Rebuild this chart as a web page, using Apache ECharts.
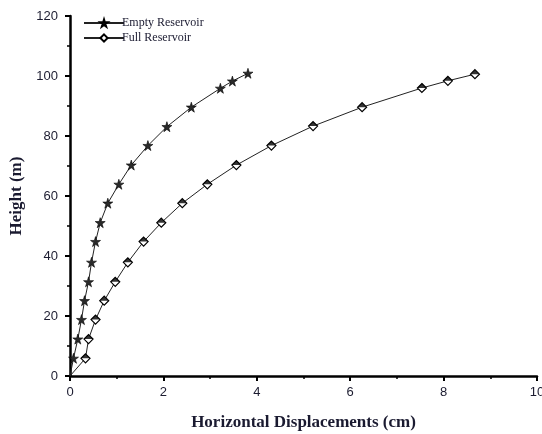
<!DOCTYPE html>
<html>
<head>
<meta charset="utf-8">
<script src="https://cdn.jsdelivr.net/npm/echarts@6/dist/echarts.min.js"></script>
<style>
  html, body { margin: 0; padding: 0; background: #fff; }
  #chart { width: 542px; height: 434px; }
</style>
</head>
<body>
<div id="chart"></div>
<script>
// Dam crest displacement profiles (height vs. horizontal displacement)
const emptyHeight = [0, 5.9, 12.3, 18.8, 25.1, 31.4, 37.9, 44.8, 51.1, 57.6, 63.9, 70.3, 76.8, 83.1, 89.6, 95.9, 98.3, 100.9];
const emptyDisp   = [0, 0.075, 0.167, 0.246, 0.311, 0.397, 0.461, 0.547, 0.647, 0.81, 1.046, 1.312, 1.668, 2.075, 2.598, 3.22, 3.477, 3.811];

const fullHeight = [0, 5.9, 12.3, 18.8, 25.1, 31.4, 37.9, 44.8, 51.1, 57.6, 63.9, 70.3, 76.8, 83.3, 89.6, 96.0, 98.4, 100.6];
const fullDisp   = [0, 0.332, 0.397, 0.547, 0.733, 0.969, 1.239, 1.576, 1.955, 2.405, 2.941, 3.563, 4.313, 5.205, 6.255, 7.535, 8.092, 8.671];

const xTicks = [0, 2, 4, 6, 8, 10];
const yTicks = [0, 20, 40, 60, 80, 100, 120];

const starPath = 'path://M50,0 L61,35 L98,35 L68,57 L79,91 L50,70 L21,91 L32,57 L2,35 L39,35 Z';
const halfDiamondTop = 'path://M0,10 L10,0 L20,10 Z';

const pairs = (xs, ys) => xs.map((x, i) => [x, ys[i]]);
const emptyData = pairs(emptyDisp, emptyHeight);
const fullData = pairs(fullDisp, fullHeight);
// the origin point carries no marker
const markerOnly = d => d.map((p, i) => i === 0 ? { value: p, symbolSize: 0 } : p);

const tickFont = { fontFamily: 'Liberation Sans', fontSize: 13, color: '#1c1c30' };
const titleFont = { fontFamily: 'Liberation Serif', fontWeight: 'bold', fontSize: 17, color: '#1a1a30' };

const chart = echarts.init(document.getElementById('chart'), null, { renderer: 'canvas' });
chart.setOption({
  animation: false,
  backgroundColor: '#fff',
  grid: { left: 70, right: 5, top: 16, bottom: 58, containLabel: false, outerBoundsMode: 'none' },
  legend: {
    orient: 'vertical',
    left: 78,
    top: 12,
    itemGap: 3,
    itemWidth: 40,
    itemHeight: 9,
    textStyle: { fontFamily: 'Liberation Serif', fontSize: 12, color: '#1a1a30', padding: [0, 0, 0, -7] },
    data: ['Empty Reservoir', 'Full Reservoir']
  },
  xAxis: {
    type: 'value',
    min: 0, max: 10, interval: 2,
    name: 'Horizontal Displacements (cm)',
    nameLocation: 'middle',
    nameGap: 38,
    nameTextStyle: titleFont,
    axisLine: { show: true, lineStyle: { color: '#000', width: 2.5 } },
    axisTick: { show: true, inside: false, length: 5, lineStyle: { color: '#000', width: 2 } },
    minorTick: { show: true, splitNumber: 2, length: 3, lineStyle: { color: '#000', width: 1.5 } },
    axisLabel: Object.assign({ margin: 10, formatter: v => xTicks.includes(v) ? String(v) : '' }, tickFont),
    splitLine: { show: false }
  },
  yAxis: {
    type: 'value',
    min: 0, max: 120, interval: 20,
    name: 'Height (m)',
    nameLocation: 'middle',
    nameGap: 40,
    nameTextStyle: titleFont,
    axisLine: { show: true, lineStyle: { color: '#000', width: 2.5 } },
    axisTick: { show: true, inside: false, length: 5, lineStyle: { color: '#000', width: 2 } },
    minorTick: { show: true, splitNumber: 2, length: 3, lineStyle: { color: '#000', width: 1.5 } },
    axisLabel: Object.assign({ margin: 12, formatter: v => yTicks.includes(v) ? String(v) : '' }, tickFont),
    splitLine: { show: false }
  },
  series: [
    {
      name: 'Empty Reservoir',
      type: 'line',
      data: markerOnly(emptyData),
      symbol: starPath,
      symbolSize: 10,
      lineStyle: { color: '#222', width: 1 },
      itemStyle: { color: '#2a2a2a', borderColor: '#000', borderWidth: 0.6 },
      z: 3
    },
    {
      name: 'Full Reservoir',
      type: 'line',
      data: markerOnly(fullData),
      symbol: 'diamond',
      symbolSize: 9,
      lineStyle: { color: '#222', width: 1 },
      itemStyle: { color: '#fff', borderColor: '#000', borderWidth: 1.2 },
      z: 3
    },
    {
      name: 'Full Reservoir fill',
      type: 'scatter',
      data: fullData.slice(1),
      symbol: halfDiamondTop,
      symbolSize: [9, 4.5],
      symbolOffset: [0, -2.25],
      itemStyle: { color: '#000' },
      silent: true,
      z: 4
    }
  ]
});
</script>
</body>
</html>
